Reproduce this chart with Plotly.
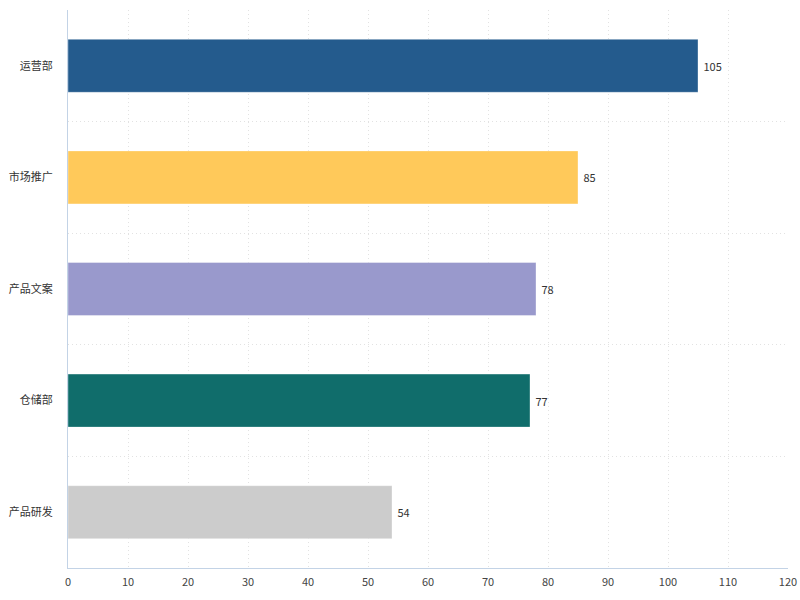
import plotly.graph_objects as go

categories = ["运营部", "市场推广", "产品文案", "仓储部", "产品研发"]
values = [105, 85, 78, 77, 54]
colors = ["#245b8d", "#ffc95a", "#9999cc", "#106d6b", "#cccccc"]

fig = go.Figure(go.Bar(
    x=values, y=categories, orientation="h",
    marker=dict(color=colors, line=dict(color="rgba(255,255,255,0.35)", width=1)),
    width=0.475,
    texttemplate=" %{x}", textposition="outside",
    textfont=dict(size=11, color="#333333"),
    cliponaxis=False,
))

fig.update_layout(
    width=800, height=600,
    margin=dict(l=68, r=12, t=10, b=32),
    plot_bgcolor="white", paper_bgcolor="white",
    font=dict(family="Noto Sans CJK SC, Noto Sans, sans-serif", size=11, color="#333333"),
    showlegend=False,
    xaxis=dict(range=[0, 120], dtick=10, showgrid=True, gridcolor="#e2e2e2", griddash="1px,3px",
               gridwidth=1, showline=True, linecolor="#c3d3e6", linewidth=1, zeroline=False,
               tickfont=dict(size=11, color="#444444"), ticks="", ticklabelstandoff=4,
               automargin=False),
    yaxis=dict(autorange="reversed", type="category", tickson="boundaries",
               showgrid=True, gridcolor="#e2e2e2", griddash="1px,3px", gridwidth=1,
               showline=True, linecolor="#c3d3e6", linewidth=1, zeroline=False,
               ticks="", ticklabelstandoff=12, tickfont=dict(size=11, color="#333333"),
               automargin=False),
    bargap=0.5,
)

fig.write_html("out.html", config={"displayModeBar": False},
               post_script="document.body.style.margin='0';document.body.style.overflow='hidden';")
